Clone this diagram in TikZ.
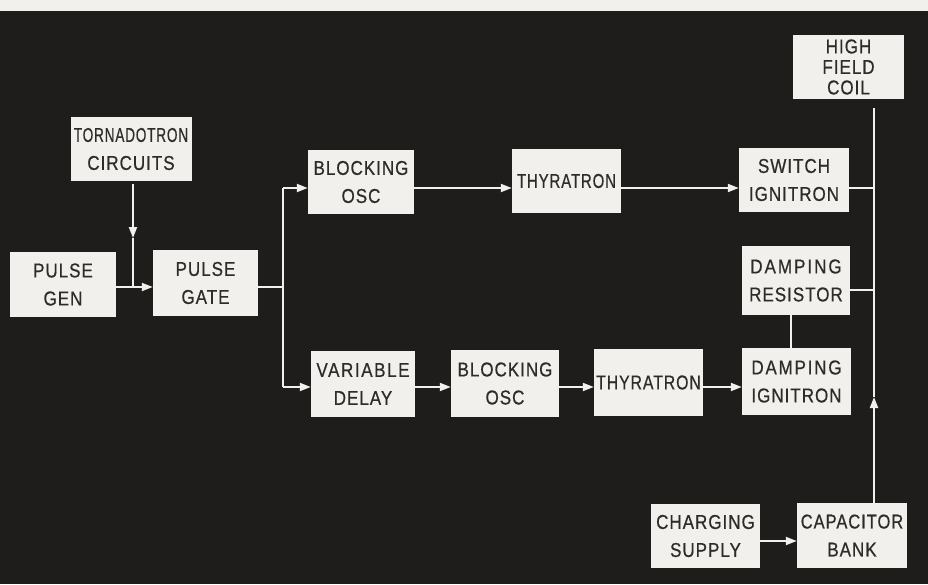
\documentclass[tikz,border=0pt]{standalone}
\usepackage{fontspec}
\usepackage{graphicx}
\setmainfont{Liberation Sans}[FakeStretch=0.85,LetterSpace=5,FakeBold=0.6]
\usetikzlibrary{arrows.meta}
\definecolor{bg}{HTML}{1F1D1C}
\definecolor{paper}{HTML}{F2F0EC}
\definecolor{ink}{HTML}{2E2C2A}
\begin{document}
\begin{tikzpicture}[x=1pt,y=-1pt,
  blk/.style={draw=none, fill=paper, text=ink, align=center, inner sep=0pt,
              font=\fontsize{20}{28}\selectfont},
  wire/.style={draw=paper, line width=2pt},
  arr/.style={wire, -{Triangle[length=11pt,width=8pt]}}]
\useasboundingbox (0,0) rectangle (928,584);
\fill[bg] (0,0) rectangle (928,584);
\fill[paper] (0,0) rectangle (928,11);

% blocks
\node[blk, minimum width=121pt, minimum height=64pt] (torn) at (131,149) {\scalebox{0.8}[1]{TORNADOTRON}\\CIRCUITS};
\node[blk, minimum width=106pt, minimum height=65pt] (pgen) at (63,284.5) {PULSE\\GEN};
\node[blk, minimum width=105pt, minimum height=66pt] (pgate) at (205.5,283) {PULSE\\GATE};
\node[blk, minimum width=106pt, minimum height=64pt] (bosc1) at (361,182) {BLOCKING\\OSC};
\node[blk, minimum width=109pt, minimum height=64pt] (thy1) at (566.5,181) {\scalebox{0.88}[1]{THYRATRON}};
\node[blk, minimum width=110pt, minimum height=64pt] (sw) at (794,180) {SWITCH\\IGNITRON};
\node[blk, minimum width=111pt, minimum height=64pt, font=\fontsize{20}{20.5}\selectfont] (coil) at (848.5,67) {HIGH\\FIELD\\COIL};
\node[blk, minimum width=108pt, minimum height=69pt] (dres) at (796,280.5) {\addfontfeature{LetterSpace=10}DAMPING\\RESISTOR};
\node[blk, minimum width=109pt, minimum height=67pt] (dign) at (796.5,381.5) {\addfontfeature{LetterSpace=9}DAMPING\\IGNITRON};
\node[blk, minimum width=104pt, minimum height=66pt] (vd) at (363,384) {\addfontfeature{LetterSpace=8}VARIABLE\\DELAY};
\node[blk, minimum width=108pt, minimum height=67pt] (bosc2) at (505,383.5) {BLOCKING\\OSC};
\node[blk, minimum width=109pt, minimum height=67pt] (thy2) at (648.5,382.5) {\scalebox{0.93}[1]{THYRATRON}};
\node[blk, minimum width=109pt, minimum height=64pt] (chg) at (705.5,536) {CHARGING\\SUPPLY};
\node[blk, minimum width=110pt, minimum height=65pt] (cap) at (852,535.5) {\scalebox{0.97}[1]{CAPACITOR}\\BANK};

% helper coordinates
\coordinate (yA) at (0,188);
\coordinate (yB) at (0,387);
\coordinate (yP) at (0,287);
\coordinate (yR) at (0,290);
\coordinate (yC) at (0,541);
\coordinate (bus) at (283,0);
\coordinate (hv) at (874,0);
\coordinate (tx) at (133,0);
\coordinate (dx) at (791,0);
\coordinate (tdn) at (133,238);
\coordinate (up) at (874,397);

% connectors
\draw[arr, shorten <=3pt] (torn.south -| tx) -- (tdn);
\draw[wire] (tdn) -- (tx |- yP);
\draw[arr] (pgen.east |- yP) -- (pgate.west |- yP);
\draw[wire] (pgate.east |- yP) -- (bus |- yP);
\draw[wire] (bus |- yA) -- (bus |- yB);
\draw[arr] (bus |- yA) -- (bosc1.west |- yA);
\draw[arr] (bus |- yB) -- (vd.west |- yB);
\draw[arr] (bosc1.east |- yA) -- (thy1.west |- yA);
\draw[arr] (thy1.east |- yA) -- (sw.west |- yA);
\draw[arr] (vd.east |- yB) -- (bosc2.west |- yB);
\draw[arr] (bosc2.east |- yB) -- (thy2.west |- yB);
\draw[arr] (thy2.east |- yB) -- (dign.west |- yB);
\draw[wire] (sw.east |- yA) -- (hv |- yA);
\draw[wire] (dres.east |- yR) -- (hv |- yR);
\draw[wire] (dres.south -| dx) -- (dign.north -| dx);
\draw[arr] (chg.east |- yC) -- (cap.west |- yC);
\draw[arr] (cap.north -| hv) -- (up);
\draw[wire, shorten >=9pt] (up) -- (coil.south -| hv);
\end{tikzpicture}
\end{document}
